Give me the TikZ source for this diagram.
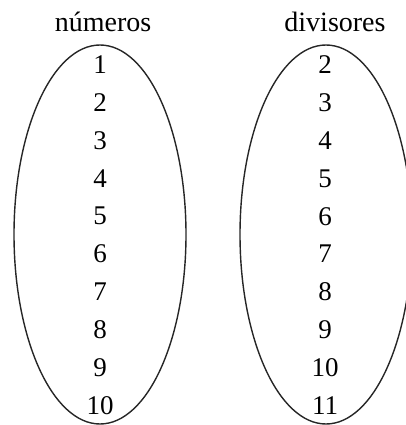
\documentclass[tikz,border=0pt]{standalone}
\usepackage{fontspec}
\setmainfont{Liberation Serif}
\begin{document}
\begin{tikzpicture}[x=1pt,y=-1pt,
  setline/.style={draw=black!85, line width=1.4pt},
  elem/.style={inner sep=0pt, font=\fontsize{27}{30}\selectfont},
  title/.style={inner sep=0pt, anchor=base, font=\fontsize{28}{32}\selectfont}]
\useasboundingbox (0,0) rectangle (406,425);
% the two sets
\draw[setline] (100,234.5) ellipse [x radius=86, y radius=189.5];
\draw[setline] (326,234.5) ellipse [x radius=86, y radius=189.5];
% headings
\node[title] (tnum) at (103,32) {números};
\node[title] (tdiv) at (335,32) {divisores};
% elements of each set
\foreach \k in {1,...,10}{
  \node[elem] (a\k) at (100,{65+37.8*(\k-1)}) {\k};
}
\foreach \k [evaluate=\k as \v using int(\k+1)] in {1,...,10}{
  \node[elem] (b\k) at (325,{65+37.8*(\k-1)}) {\v};
}
\end{tikzpicture}
\end{document}
